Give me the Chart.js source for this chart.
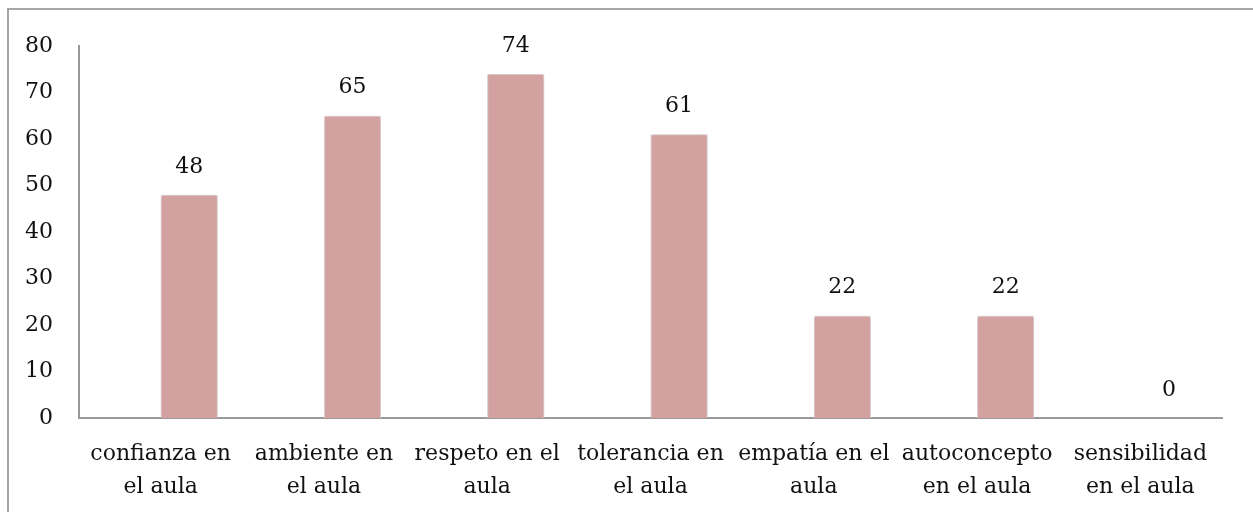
<!DOCTYPE html>
<html>
<head>
<meta charset="utf-8">
<script src="https://cdn.jsdelivr.net/npm/chart.js@4/dist/chart.umd.min.js"></script>
<style>
  html, body { margin: 0; padding: 0; background: #fff; overflow: hidden; }
  #marco { position: absolute; left: 7px; top: 8px; width: 1300px; height: 560px; border: 2px solid #a6a6a6; }
  #wrap { position: absolute; left: 0; top: 0; width: 1253px; height: 512px; }
</style>
</head>
<body>
<div id="marco"></div>
<div id="wrap"><canvas id="grafico"></canvas></div>
<script>
// categorias del eje x
const categorias = [
  ['confianza en', 'el aula'],
  ['ambiente en', 'el aula'],
  ['respeto en el', 'aula'],
  ['tolerancia en', 'el aula'],
  ['empatía en el', 'aula'],
  ['autoconcepto', 'en el aula'],
  ['sensibilidad', 'en el aula']
]
const valores = [48, 65, 74, 61, 22, 22, 0]
// serie vacia (ocupa el hueco izquierdo como en el original)
const serieVacia = [null, null, null, null, null, null, null]
const ticksY = [0, 10, 20, 30, 40, 50, 60, 70, 80]

const fuente = "'DejaVu Serif', 'Liberation Serif', serif"

const etiquetas = {
  id: 'etiquetas',
  afterDatasetsDraw(chart) {
    const ctx = chart.ctx
    const meta = chart.getDatasetMeta(1)
    ctx.save()
    ctx.font = '22px ' + fuente
    ctx.fillStyle = '#111'
    ctx.textAlign = 'center'
    ctx.textBaseline = 'middle'
    meta.data.forEach((bar, i) => {
      ctx.fillText(String(valores[i]), bar.x, bar.y - 28)
    })
    ctx.restore()
  }
}

const sombra = {
  id: 'sombra',
  beforeDatasetDraw(chart) {
    chart.ctx.save()
    chart.ctx.shadowColor = 'rgba(0,0,0,0.28)'
    chart.ctx.shadowBlur = 4
  },
  afterDatasetDraw(chart) {
    chart.ctx.restore()
  }
}

new Chart(document.getElementById('grafico'), {
  type: 'bar',
  data: {
    labels: categorias,
    datasets: [
      { label: '', data: serieVacia, backgroundColor: 'rgba(0,0,0,0)' },
      {
        label: 'serie',
        data: valores,
        backgroundColor: '#d4a1a1',
        borderColor: '#f3e3e3',
        borderWidth: 1
      }
    ]
  },
  options: {
    responsive: true,
    maintainAspectRatio: false,
    animation: false,
    layout: { padding: { top: 46, right: 31, left: 0, bottom: 0 } },
    plugins: { legend: { display: false }, tooltip: { enabled: false } },
    datasets: { bar: { categoryPercentage: 0.7, barPercentage: 1.0 } },
    scales: {
      x: {
        grid: { display: false, drawTicks: false },
        border: { color: '#999', width: 2 },
        ticks: {
          color: '#111',
          font: { family: fuente, size: 22, lineHeight: 1.5 },
          maxRotation: 0,
          autoSkip: false,
          padding: 20
        },
        afterFit(scale) { scale.height = 94 }
      },
      y: {
        min: 0,
        max: 80,
        afterBuildTicks(scale) { scale.ticks = ticksY.map(v => ({ value: v })) },
        grid: { display: false, drawTicks: false },
        border: { color: '#999', width: 2 },
        ticks: {
          color: '#111',
          font: { family: fuente, size: 22 },
          padding: 26
        },
        afterFit(scale) { scale.width = 79 }
      }
    }
  },
  plugins: [sombra, etiquetas]
})
</script>
</body>
</html>
